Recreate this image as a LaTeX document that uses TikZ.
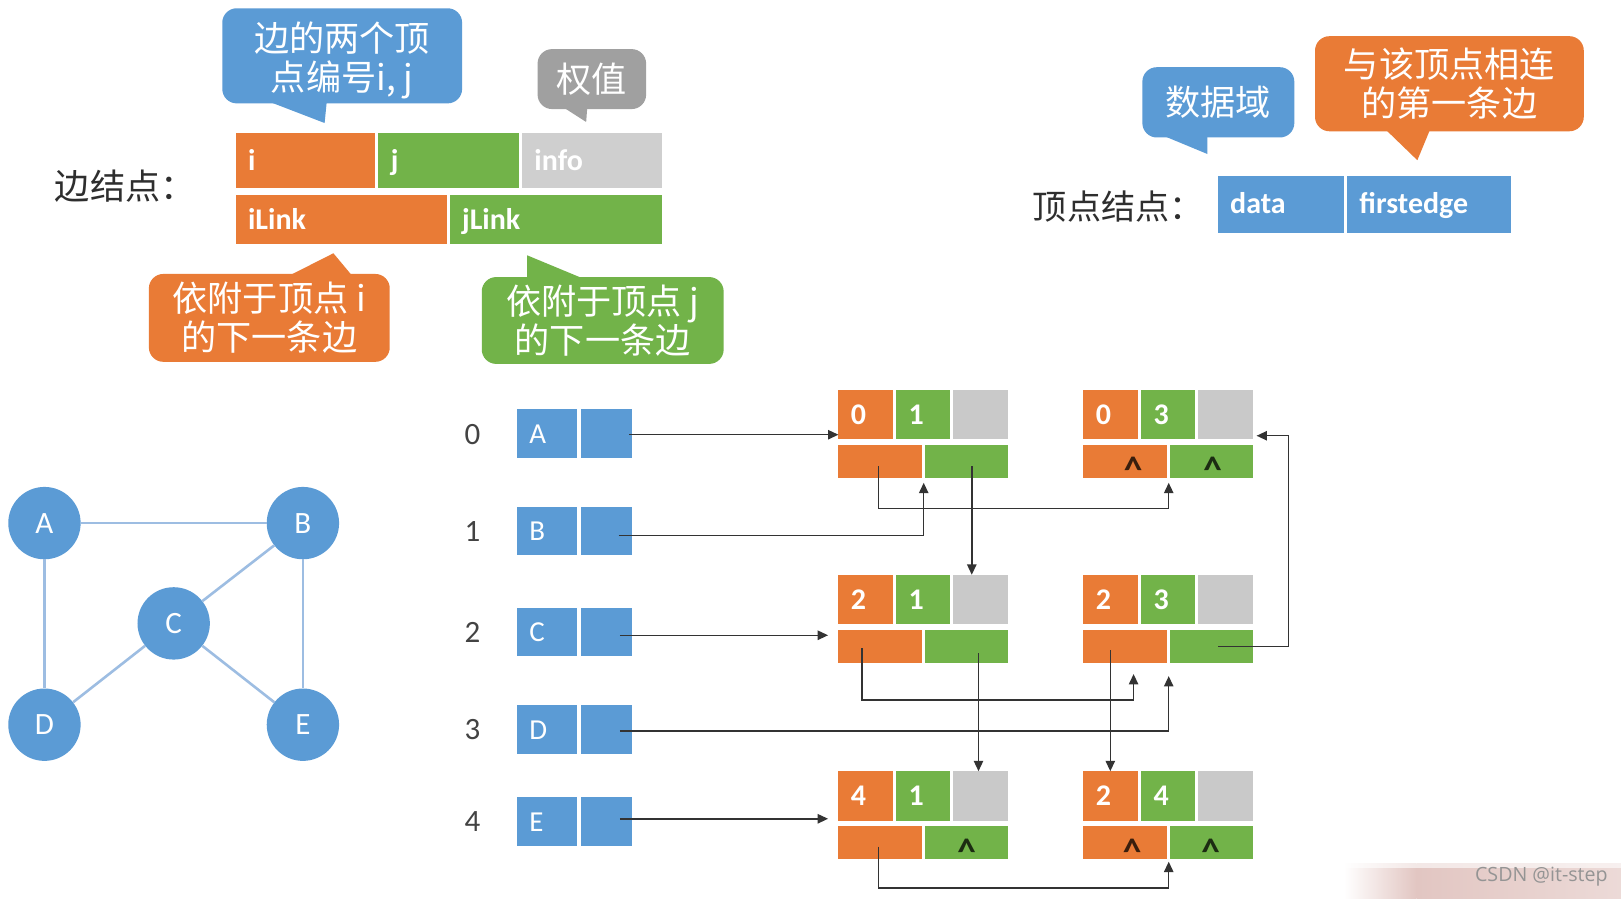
\documentclass[tikz,border=0pt]{standalone}
\usepackage{fontspec}
\setmainfont{Carlito}
\newfontfamily\cjk{Noto Sans CJK SC}
\newfontfamily\wmfont{Open Sans}
\usetikzlibrary{arrows.meta,calc}
\definecolor{vblue}{HTML}{5B9BD5}
\definecolor{vorg}{HTML}{E97B36}
\definecolor{vgrn}{HTML}{72B349}
\definecolor{vgray}{HTML}{C9C9C9}
\definecolor{vgrayl}{HTML}{CFCFCF}
\definecolor{cgray}{HTML}{A0A0A0}
\definecolor{gline}{HTML}{9DBDE2}
\definecolor{wpink}{HTML}{E2C6C2}
\definecolor{txtdark}{HTML}{2E2E2E}
\newcommand{\fsz}[2]{\fontsize{#1}{#2}\selectfont}
\newcommand{\mkcell}[8]{% style,name,x,y,w,h,fill,text
  \pgfmathsetmacro\mytw{#5-24}
  \node[#1, fill=#7, minimum width=#5pt, minimum height=#6pt, text width=\mytw pt] (#2) at (#3,#4) {#8};
}
\newcommand{\enode}[5]{% prefix,x,y,i,j
  \mkcell{cell}{#1i}{#2}{#3}{53}{48}{vorg}{#4}
  \mkcell{cell}{#1j}{#2+56}{#3}{52}{48}{vgrn}{#5}
  \mkcell{cell}{#1w}{#2+111}{#3}{53}{48}{vgray}{}
  \mkcell{cell}{#1il}{#2}{#3+53}{81}{32}{vorg}{}
  \mkcell{cell}{#1jl}{#2+84}{#3+53}{80}{32}{vgrn}{}
}
\begin{document}
\begin{tikzpicture}[x=1pt,y=-1pt,
  cell/.style={rectangle, anchor=north west, inner xsep=12pt, inner ysep=0pt, outer sep=0pt,
    align=left, text=white, font=\bfseries\fsz{29}{29}, text height=19pt, text depth=0pt},
  vcell/.style={cell, font=\fsz{28}{28}},
  callout/.style={rectangle, rounded corners=14pt, inner sep=0pt, text=white, align=center,
    font=\cjk\fsz{34}{38}},
  lab/.style={text=txtdark, font=\cjk\fsz{34}{38}, inner sep=0pt, anchor=west},
  idx/.style={text=txtdark!90, font=\fsz{30}{30}, inner sep=0pt},
  caret/.style={text=black, text opacity=0.75, font=\bfseries\fsz{36}{36}, anchor=base, inner sep=0pt, yshift=-21pt},
  gv/.style={circle, fill=vblue, minimum size=70pt, inner sep=0pt, text=white, font=\fsz{30}{30}},
  gedge/.style={draw=gline, line width=2.5pt},
  arr/.style={draw=black!80, line width=1.4pt, -{Triangle[length=10pt,width=9pt]}},
  wm/.style={text=black!42, font=\wmfont\fsz{19}{19}, inner sep=0pt}
]
\useasboundingbox (0,0) rectangle (1568,869);
\fill[white] (0,0) rectangle (1568,869);

% ---------- edge node prototype ----------
\node[lab] (lbE) at (53,180) {边结点：};
\mkcell{cell}{pi}{228}{129}{135}{53}{vorg}{i}
\mkcell{cell}{pj}{366}{129}{136}{53}{vgrn}{j}
\mkcell{cell}{pw}{505}{129}{135}{53}{vgrayl}{info}
\mkcell{cell}{pil}{228}{189}{204}{47}{vorg}{iLink}
\mkcell{cell}{pjl}{435}{189}{205}{47}{vgrn}{jLink}

% callouts
\fill[vblue] (262,99) -- (314,119) -- (316,99) -- cycle;
\node[callout, fill=vblue, minimum width=232pt, minimum height=92pt] (cb1) at (331,54) {\rule{0pt}{37pt}边的两个顶\\点编号i, j};
\fill[cgray] (546,104.5) -- (567,118) -- (568,104.5) -- cycle;
\node[callout, fill=cgray, minimum width=105pt, minimum height=58pt] (cg) at (572.5,76.5) {权值};
\fill[vorg] (281,266) -- (322.5,245) -- (340,266) -- cycle;
\node[callout, fill=vorg, minimum width=233pt, minimum height=85pt] (co1) at (260.5,307.5) {依附于顶点 i\\的下一条边};
\fill[vgrn] (510,269) -- (510,247) -- (563,269) -- cycle;
\node[callout, fill=vgrn, minimum width=234pt, minimum height=84pt] (cgr) at (583,310) {依附于顶点 j\\的下一条边};

% ---------- vertex node prototype ----------
\node[lab, font=\cjk\fsz{33}{38}] (lbV) at (999,200) {顶点结点：};
\mkcell{cell}{vd}{1178}{170}{122}{55}{vblue}{data}
\mkcell{cell}{vf}{1303}{170}{159}{55}{vblue}{firstedge}
\fill[vblue] (1127,132) -- (1168,149) -- (1168,132) -- cycle;
\node[callout, fill=vblue, minimum width=147pt, minimum height=68pt] (cb2) at (1178.5,99) {数据域};
\fill[vorg] (1341,126) -- (1371,155) -- (1383,126) -- cycle;
\node[callout, fill=vorg, minimum width=260pt, minimum height=92pt] (co2) at (1402,81) {与该顶点相连\\的第一条边};

% ---------- graph ----------
\node[gv] (A) at (43,506) {A};
\node[gv] (B) at (293,506) {B};
\node[gv] (C) at (168,603) {C};
\node[gv] (D) at (43,701) {D};
\node[gv] (E) at (293,701) {E};
\draw[gedge] (A) -- (B);
\draw[gedge] (A) -- (D);
\draw[gedge] (B) -- (C);
\draw[gedge] (B) -- (E);
\draw[gedge] (C) -- (D);
\draw[gedge] (C) -- (E);

% ---------- vertex table ----------
\node[idx] (i0) at (457,420) {0};
\node[idx] (i1) at (457,514) {1};
\node[idx] (i2) at (457,612) {2};
\node[idx] (i3) at (457,706) {3};
\node[idx] (i4) at (457,795) {4};
\mkcell{vcell}{dA}{500}{396}{58}{47}{vblue}{A}
\mkcell{vcell}{pA}{562}{396}{49}{47}{vblue}{}
\mkcell{vcell}{dB}{500}{490}{58}{47}{vblue}{B}
\mkcell{vcell}{pB}{562}{490}{49}{47}{vblue}{}
\mkcell{vcell}{dC}{500}{588}{58}{47}{vblue}{C}
\mkcell{vcell}{pC}{562}{588}{49}{47}{vblue}{}
\mkcell{vcell}{dD}{500}{682}{58}{47}{vblue}{D}
\mkcell{vcell}{pD}{562}{682}{49}{47}{vblue}{}
\mkcell{vcell}{dE}{500}{771}{58}{47}{vblue}{E}
\mkcell{vcell}{pE}{562}{771}{49}{47}{vblue}{}

% ---------- edge nodes ----------
\enode{e01}{811}{377}{0}{1}
\enode{e03}{1048}{377}{0}{3}
\enode{e21}{811}{556}{2}{1}
\enode{e23}{1048}{556}{2}{3}
\enode{e41}{811}{746}{4}{1}
\enode{e24}{1048}{746}{2}{4}
\node[caret] (k1) at ($(e03il.center)+(7.5,0)$) {\textasciicircum};
\node[caret] (k2) at ($(e03jl.center)+(1,0)$) {\textasciicircum};
\node[caret] (k3) at ($(e41jl.center)+(0,0)$) {\textasciicircum};
\node[caret] (k4) at ($(e24il.center)+(6.5,0)$) {\textasciicircum};
\node[caret] (k5) at ($(e24jl.center)+(-1,0)$) {\textasciicircum};

% ---------- connectors ----------
\draw[arr] ($(pA.center)+(22,1)$) coordinate (a0) -- (a0 -| e01i.west);
\draw[arr] ($(pB.center)+(12,4.5)$) -| ($(e01il.south east)+(1.5,5)$);
\draw[arr] ($(pC.center)+(13,3)$) coordinate (a2) -- ($(a2 -| e21il.west)+(-10,0)$);
\draw[arr] ($(pD.center)+(13,1.5)$) -| ($(e23il.south east)+(1.5,13)$);
\draw[arr] ($(pE.center)+(13,-2.5)$) coordinate (a4) -- ($(a4 -| e41i.west)+(-10,0)$);
\draw[arr] ($(e01il.center)+(-2,5)$) -- ++(0,41) -| ($(e03il.south east)+(1.5,5)$);
\draw[arr] ($(e01jl.center)+(5,5)$) coordinate (b1) -- (b1 |- e21w.north);
\draw[arr] ($(e21il.center)+(-17.5,2)$) -- ++(0,50) -| ($(e23il.south)+(8,11)$);
\draw[arr] ($(e21jl.center)+(11.5,7)$) coordinate (b3) -- (b3 |- e41w.north);
\draw[arr] ($(e23il.center)+(-14.5,4)$) coordinate (b4) -- (b4 |- e24i.north);
\draw[arr] ($(e23jl.center)+(6.5,0.5)$) -- ++(68,0) |- ($(e03w.east)+(3.5,20.5)$);
\draw[arr] ($(e41il.center)+(-1.5,4)$) -- ++(0,40) -| ($(e24il.south east)+(1.5,2.5)$);

% ---------- watermark ----------
\shade[left color=white, right color=wpink] (1300,835) rectangle (1370,869);
\shade[left color=wpink, right color=wpink!65] (1370,835) rectangle (1568,869);
\shade[top color=white, bottom color=white, opacity=0.6] (1300,835) rectangle (1568,839);
\node[wm] (wm) at (1491,848) {CSDN @it-step};
\end{tikzpicture}
\end{document}
